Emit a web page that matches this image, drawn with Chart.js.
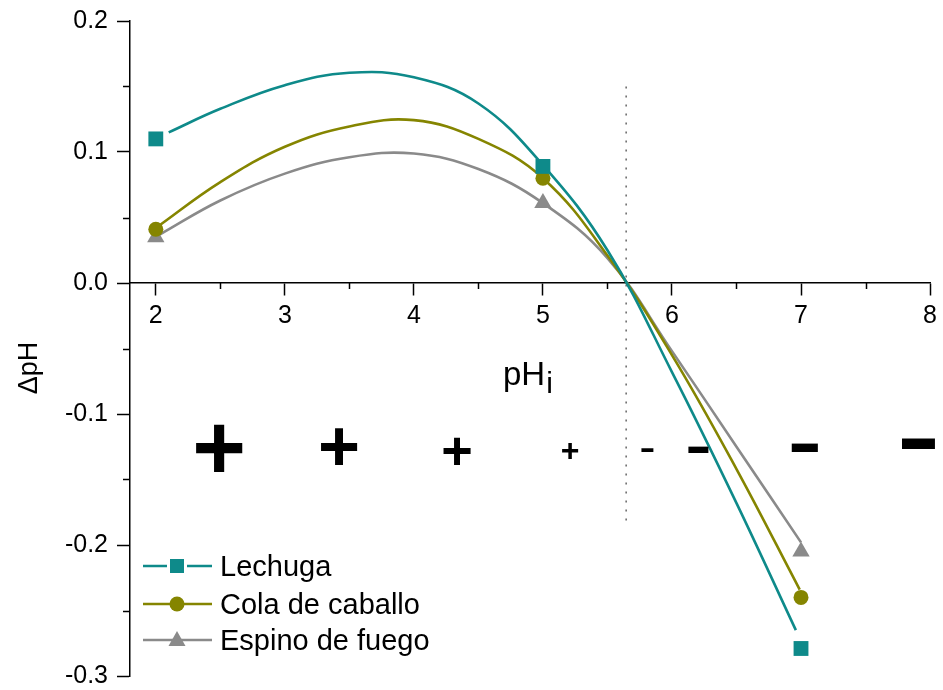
<!DOCTYPE html>
<html>
<head>
<meta charset="utf-8">
<script src="https://cdn.jsdelivr.net/npm/chart.js@4.4.1/dist/chart.umd.min.js"></script>
<style>
  html, body { margin: 0; padding: 0; background: #fff; }
  #wrap { width: 943px; height: 690px; }
</style>
</head>
<body>
<div id="wrap"><canvas id="ph-chart" width="943" height="690"></canvas></div>
<script>
var seriesNames = ['Lechuga', 'Cola de caballo', 'Espino de fuego'];

// measured points
var measX = [2, 5, 7];
var lechugaY = [0.110, 0.089, -0.279];
var colaY = [0.041, 0.080, -0.240];
var espinoY = [0.035, 0.061, -0.205];

// fitted curves
var lechugaFitX = [2.1, 2.5, 3.0, 3.5, 4.0, 4.5, 5.0, 5.5, 6.0, 6.5, 6.96];
var lechugaFitY = [0.115, 0.133, 0.151, 0.1605, 0.157, 0.137, 0.090, 0.025, -0.068, -0.168, -0.265];
var colaFitX = [2.0, 2.5, 3.0, 3.5, 4.0, 4.5, 5.0, 5.5, 6.0, 6.5, 6.99];
var colaFitY = [0.042, 0.077, 0.104, 0.1195, 0.1243, 0.110, 0.080, 0.021, -0.055, -0.142, -0.234];
var espinoFitX = [2.03, 2.5, 3.0, 3.5, 4.0, 4.5, 5.0, 5.5, 6.0, 6.5, 7.0];
var espinoFitY = [0.037, 0.063, 0.0835, 0.096, 0.0988, 0.087, 0.061, 0.019, -0.052, -0.125, -0.198];

// dotted vertical line
var vlineX = [5.645, 5.645];
var vlineY = [0.15, -0.186];

// +/- marks
var signText = ['+', '+', '+', '+', '-', '-', '-', '-'];
var signX = [2.49, 3.42, 4.335, 5.21, 5.81, 6.205, 7.03, 7.91];
var signY = [-0.125, -0.124, -0.1275, -0.1275, -0.1275, -0.1275, -0.1252, -0.1221];

var xTicks = [2, 3, 4, 5, 6, 7, 8];
var yTicks = [-0.3, -0.2, -0.1, 0.0, 0.1, 0.2];

var colors = ['#0e8a8a', '#858500', '#8a8a8a'];
var styles = ['rect', 'circle', 'triangle'];
var fontFam = '"Liberation Sans", Arial, sans-serif';
var signSize = [92, 72, 54, 32, 49, 82, 107, 135];

function pts(xs, ys) {
  return xs.map(function(x, i) { return { x: x, y: ys[i] }; });
}

var markerSets = [lechugaY, colaY, espinoY].map(function(ys, i) {
  return {
    label: seriesNames[i],
    data: pts(measX, ys),
    showLine: false,
    pointStyle: styles[i],
    pointRadius: [10.5, 7.5, 10][i],
    backgroundColor: colors[i],
    borderColor: colors[i],
    borderWidth: 0,
    order: 0
  };
});

var fitSets = [[lechugaFitX, lechugaFitY], [colaFitX, colaFitY], [espinoFitX, espinoFitY]].map(function(f, i) {
  return {
    label: seriesNames[i] + ' fit',
    data: pts(f[0], f[1]),
    showLine: true,
    tension: 0.4,
    pointRadius: 0,
    borderColor: colors[i],
    borderWidth: 2.6,
    order: 1
  };
});

var vline = {
  label: 'pHpzc',
  data: pts(vlineX, vlineY),
  showLine: true,
  pointRadius: 0,
  borderColor: '#666',
  borderWidth: 1.5,
  borderDash: [2, 7],
  order: 2
};

var extras = {
  id: 'extras',
  afterDraw: function(chart) {
    var ctx = chart.ctx;
    var xs = chart.scales.x, ys = chart.scales.y;
    var y0 = ys.getPixelForValue(0);
    var left = chart.chartArea.left;
    ctx.save();
    ctx.strokeStyle = '#000';
    ctx.lineWidth = 1.5;
    // minor ticks
    ctx.beginPath();
    for (var v = 2.5; v < 8; v += 1) {
      var px = Math.round(xs.getPixelForValue(v)) + 0.5;
      ctx.moveTo(px, y0);
      ctx.lineTo(px, y0 + 6);
    }
    for (var w = -0.25; w < 0.2; w += 0.1) {
      var py = Math.round(ys.getPixelForValue(w)) + 0.5;
      ctx.moveTo(left - 7, py);
      ctx.lineTo(left, py);
    }
    ctx.stroke();

    // +/- marks
    ctx.fillStyle = '#000';
    ctx.textAlign = 'center';
    ctx.textBaseline = 'alphabetic';
    signText.forEach(function(t, i) {
      var s = signSize[i];
      var cx = xs.getPixelForValue(signX[i]);
      var cy = ys.getPixelForValue(signY[i]);
      if (t === '+') {
        ctx.font = 'bold ' + s + 'px ' + fontFam;
        ctx.fillText(t, cx, cy + 0.35 * s);
      } else {
        ctx.font = s + 'px ' + fontFam;
        ctx.fillText(t, cx, cy + 0.274 * s);
      }
    });

    // axis titles
    ctx.textAlign = 'left';
    ctx.font = '33px ' + fontFam;
    ctx.fillText('pH', 503, 385);
    var wpH = ctx.measureText('pH').width;
    ctx.font = '30px ' + fontFam;
    ctx.fillText('i', 503 + wpH + 1, 393);

    ctx.save();
    ctx.translate(37, 368);
    ctx.rotate(-Math.PI / 2);
    ctx.textAlign = 'center';
    ctx.font = '27px ' + fontFam;
    ctx.fillText('\u0394pH', 0, 0);
    ctx.restore();

    // legend
    var rows = [566, 604, 640];
    seriesNames.forEach(function(name, i) {
      var ly = rows[i];
      ctx.strokeStyle = colors[i];
      ctx.fillStyle = colors[i];
      ctx.lineWidth = 2.6;
      ctx.beginPath();
      if (i === 0) {
        ctx.moveTo(143, ly); ctx.lineTo(167, ly);
        ctx.moveTo(187, ly); ctx.lineTo(212, ly);
      } else {
        ctx.moveTo(143, ly); ctx.lineTo(212, ly);
      }
      ctx.stroke();
      ctx.beginPath();
      if (styles[i] === 'rect') {
        ctx.rect(177 - 7, ly - 7, 14, 14);
      } else if (styles[i] === 'circle') {
        ctx.arc(177, ly, 7.5, 0, Math.PI * 2);
      } else {
        ctx.moveTo(177, ly - 9);
        ctx.lineTo(177 + 8.5, ly + 6);
        ctx.lineTo(177 - 8.5, ly + 6);
        ctx.closePath();
      }
      ctx.fill();
      ctx.fillStyle = '#000';
      ctx.textAlign = 'left';
      ctx.font = '29px ' + fontFam;
      ctx.fillText(name, 220, ly + 10);
    });
    ctx.restore();
  }
};

var ctx = document.getElementById('ph-chart');
window.phChart = new Chart(ctx, {
  type: 'scatter',
  data: { datasets: markerSets.concat(fitSets, [vline]) },
  options: {
    responsive: false,
    animation: false,
    layout: { padding: { top: 21, right: 11, bottom: 14, left: 0 } },
    plugins: {
      legend: { display: false },
      tooltip: { enabled: false }
    },
    scales: {
      x: {
        type: 'linear',
        min: 1.8,
        max: 8,
        position: { y: 0 },
        afterBuildTicks: function(scale) {
          scale.ticks = xTicks.map(function(v) { return { value: v }; });
        },
        afterFit: function(scale) {
          scale.paddingTop = 0;
          scale.paddingBottom = 0;
        },
        grid: { drawOnChartArea: false, drawTicks: true, tickLength: 12, tickColor: '#000', tickWidth: 1.5 },
        border: { color: '#000', width: 1.5 },
        ticks: {
          color: '#000',
          padding: 6,
          maxRotation: 0,
          autoSkip: false,
          font: { family: fontFam, size: 25 },
          callback: function(v) { return String(v); }
        }
      },
      y: {
        type: 'linear',
        min: -0.3,
        max: 0.2,
        afterBuildTicks: function(scale) {
          scale.ticks = yTicks.map(function(v) { return { value: v }; });
        },
        afterFit: function(scale) {
          scale.width = 130;
          scale.paddingTop = 0;
          scale.paddingBottom = 0;
        },
        grid: { drawOnChartArea: false, drawTicks: true, tickLength: 13, tickColor: '#000', tickWidth: 1.5 },
        border: { color: '#000', width: 1.5 },
        ticks: {
          color: '#000',
          padding: 9,
          autoSkip: false,
          font: { family: fontFam, size: 25 },
          callback: function(v) { return Number(v).toFixed(1); }
        }
      }
    }
  },
  plugins: [extras]
});
</script>
</body>
</html>
